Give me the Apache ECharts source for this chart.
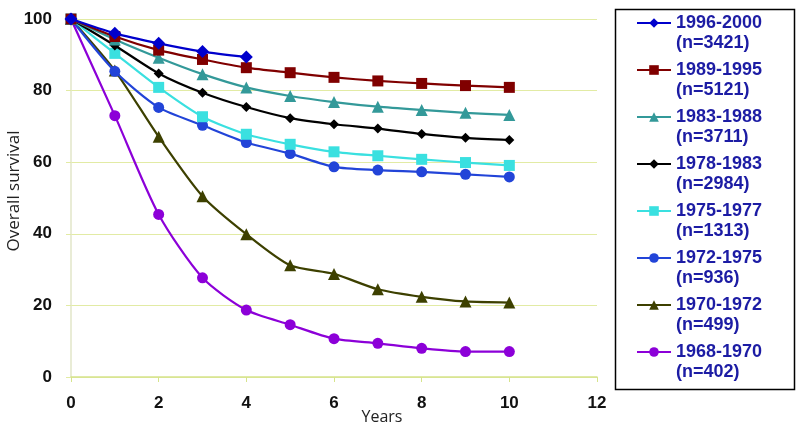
<!DOCTYPE html>
<html><head><meta charset="utf-8">
<script src="https://cdn.jsdelivr.net/npm/echarts@6/dist/echarts.min.js"></script>
<style>html,body{margin:0;padding:0;background:#fff}#c{width:800px;height:431px}</style>
</head><body><div id="c"></div>
<script>
const years = [0,1,2,3,4,5,6,7,8,9,10];
const s1996 = [100,96.0,93.2,90.9,89.4];
const s1989 = [100,95.1,91.3,88.7,86.4,85.0,83.7,82.7,82.0,81.4,80.9];
const s1983 = [100,94.3,89.2,84.6,80.9,78.5,76.8,75.5,74.6,73.8,73.2];
const s1978 = [100,92.6,84.8,79.4,75.4,72.3,70.6,69.4,67.9,66.8,66.2];
const s1975 = [100,90.4,80.9,72.7,67.8,65.0,62.9,61.8,60.8,59.9,59.1];
const s1972 = [100,85.4,75.3,70.3,65.5,62.4,58.7,57.8,57.3,56.6,55.9];
const s1970 = [100,85.6,67.1,50.5,39.9,31.2,28.8,24.5,22.4,21.1,20.8];
const s1968 = [100,73.0,45.4,27.7,18.7,14.6,10.7,9.4,8.0,7.1,7.1];
const names = ['1996-2000\n(n=3421)','1989-1995\n(n=5121)','1983-1988\n(n=3711)','1978-1983\n(n=2984)','1975-1977\n(n=1313)','1972-1975\n(n=936)','1970-1972\n(n=499)','1968-1970\n(n=402)'];
const xTicks = [0,2,4,6,8,10,12];
const yTicks = [0,20,40,60,80,100];

const dataSets = [s1996,s1989,s1983,s1978,s1975,s1972,s1970,s1968];
const colors = ['#0000cc','#800000','#339999','#000000','#3ae0e0','#2244d8','#3d4000','#8c00d8'];
const symbols = ['diamond','rect','triangle','diamond','rect','circle','triangle','circle'];
const sizes = [13,11,12,10,11,11,12,11];

const chart = echarts.init(document.getElementById('c'));
const gridColor = '#e2eba4';
chart.setOption({
  animation:false,
  grid:{left:71,right:203,top:19,bottom:54,containLabel:false,outerBoundsMode:'none'},
  graphic:[{type:'rect',left:613,top:7,shape:{width:179,height:380},
    style:{fill:'none',stroke:'#000',lineWidth:1.5},z:100}],
  xAxis:{type:'value',min:xTicks[0],max:xTicks[xTicks.length-1],interval:2,
    name:'Years',nameLocation:'middle',nameGap:32,nameMoveOverlap:false,
    nameTextStyle:{fontFamily:'Open Sans',fontSize:16,color:'#222',padding:[0,0,0,96]},
    axisLine:{show:true,lineStyle:{color:'#d6e48c',width:1.5}},
    axisTick:{show:true,length:5,lineStyle:{color:'#d6e48c'}},
    splitLine:{show:false},
    axisLabel:{margin:18,fontFamily:'Liberation Sans',fontWeight:'bold',fontSize:17,color:'#111'}},
  yAxis:{type:'value',min:yTicks[0],max:yTicks[yTicks.length-1],interval:20,
    name:'Overall survival',nameLocation:'middle',nameGap:48,nameRotate:90,nameMoveOverlap:false,
    nameTextStyle:{fontFamily:'Open Sans',fontSize:17,color:'#222',padding:[0,0,0,14]},
    axisLine:{show:true,lineStyle:{color:'#e2e6c8',width:1.5}},
    axisTick:{show:true,length:5,lineStyle:{color:gridColor}},
    splitLine:{show:true,lineStyle:{color:gridColor,width:1.2}},
    axisLabel:{margin:19,fontFamily:'Liberation Sans',fontWeight:'bold',fontSize:17,color:'#111'}},
  legend:{orient:'vertical',left:636,top:-7,height:440,
    padding:0,itemGap:-13,itemWidth:34,itemHeight:12,
    data:names,
    formatter:(n)=>' \n'+n,
    textStyle:{fontFamily:'Liberation Sans',fontWeight:'bold',fontSize:18,lineHeight:20,color:'#1c1ca4'}},
  series:dataSets.map((d,i)=>({
    name:names[i],type:'line',smooth:0.25,
    data:d.map((v,j)=>[years[j],v]),
    symbol:symbols[i],symbolSize:sizes[i],
    lineStyle:{color:colors[i],width:2.2},
    itemStyle:{color:colors[i]},
    z:10-i
  }))
});
</script></body></html>
